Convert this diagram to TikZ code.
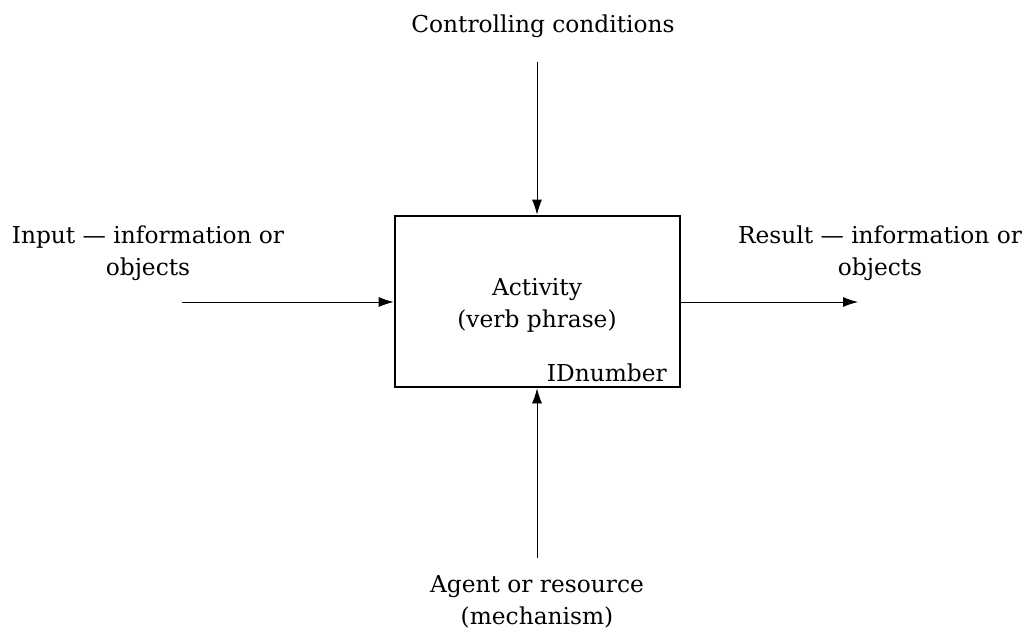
\documentclass[tikz,border=0pt]{standalone}
\usepackage{fontspec}
\setmainfont{DejaVu Serif}
\usetikzlibrary{arrows.meta}
\begin{document}
\begin{tikzpicture}[x=1pt,y=-1pt,
  lbl/.style={align=center,inner sep=0pt,font=\fontsize{23.3}{32}\selectfont},
  arr/.style={line width=0.8pt,-{Latex[length=15pt,width=10pt]}},
  actbox/.style={draw,line width=2.8pt,minimum width=285pt,minimum height=171pt,inner sep=0pt}]
\useasboundingbox (0,0) rectangle (1033,632);
\node[actbox] (box) at (537.5,301.5) {};
\node[lbl] (act) at (537,305) {Activity\\(verb phrase)};
\node[lbl,anchor=base east] (id) at (667,381) {IDnumber};
\node[lbl] (ctrl) at (543,26) {Controlling conditions};
\node[lbl] (inp) at (148,253) {Input — information or\\objects};
\node[lbl] (res) at (880,253) {Result — information or\\objects};
\node[lbl] (agent) at (537,602) {Agent or resource\\(mechanism)};
\coordinate (ctop) at (537,62);
\coordinate (abot) at (537,558);
\coordinate (ileft) at (182,302);
\coordinate (rright) at (858,302);
\draw[arr] (ctop) -- (ctop |- box.north);
\draw[arr] (abot) -- (abot |- box.south);
\draw[arr] (ileft) -- (ileft -| box.west);
\draw[arr] (rright -| box.east) -- (rright);
\end{tikzpicture}
\end{document}
